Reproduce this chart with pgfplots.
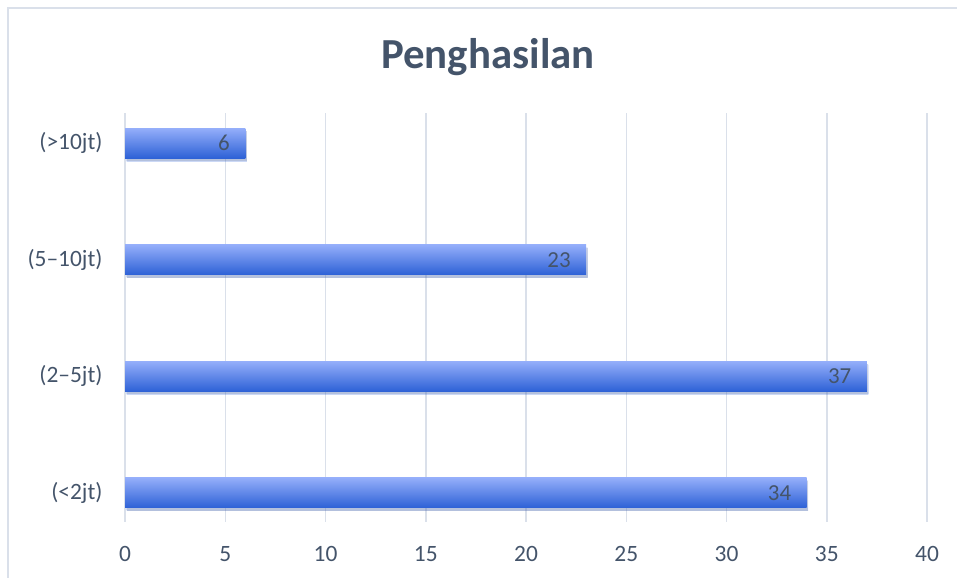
\documentclass[border=0pt]{standalone}
\usepackage{pgfplots}
\pgfplotsset{compat=1.18}
\usepackage{fontspec}
\setmainfont{Carlito}
\usetikzlibrary{shadows}
\definecolor{txt}{RGB}{68,84,106}
\definecolor{gridc}{RGB}{218,224,234}
\definecolor{bartop}{RGB}{148,174,250}
\definecolor{barbot}{RGB}{45,97,214}
\begin{document}
\begin{tikzpicture}[x=1bp,y=1bp]
\useasboundingbox (0,0) rectangle (957,578);
\draw[gridc, line width=1.2bp] (8,-20) rectangle (990,570);
\node[anchor=base, text=txt, font=\fontsize{43}{50}\selectfont\bfseries] at (488,509) {Penghasilan};
\begin{axis}[
  at={(125bp,56bp)}, anchor=south west,
  scale only axis, width=802bp, height=409bp,
  xbar, bar width=30bp, bar shift=0pt,
  xmin=0, xmax=40, ymin=-0.25, ymax=3.26,
  xtick={0,5,...,40},
  ytick={0,1,2,3},
  yticklabels={(<2jt),(2–5jt),(5–10jt),(>10jt)},
  axis line style={draw=none},
  major tick length=0pt,
  xmajorgrids, grid style={gridc, line width=1.5bp},
  /pgf/number format/assume math mode=true,
  tick label style={text=txt, font=\fontsize{23.5}{28}\selectfont},
  xticklabel style={anchor=base, yshift=-40bp},
  yticklabel style={anchor=east, xshift=-19bp},
  nodes near coords,
  every node near coord/.append style={anchor=east, xshift=-12bp, text=txt, font=\fontsize{23}{27}\selectfont},
  clip=false,
  barstyle/.style={draw=none, top color=bartop, bottom color=barbot,
    drop shadow={opacity=0.25, shadow xshift=1.5bp, shadow yshift=-3bp}},
]
\addplot[barstyle] coordinates {(34,0)};
\addplot[barstyle] coordinates {(37,1)};
\addplot[barstyle] coordinates {(23,2)};
\addplot[barstyle] coordinates {(6,3)};
\end{axis}
\end{tikzpicture}
\end{document}
